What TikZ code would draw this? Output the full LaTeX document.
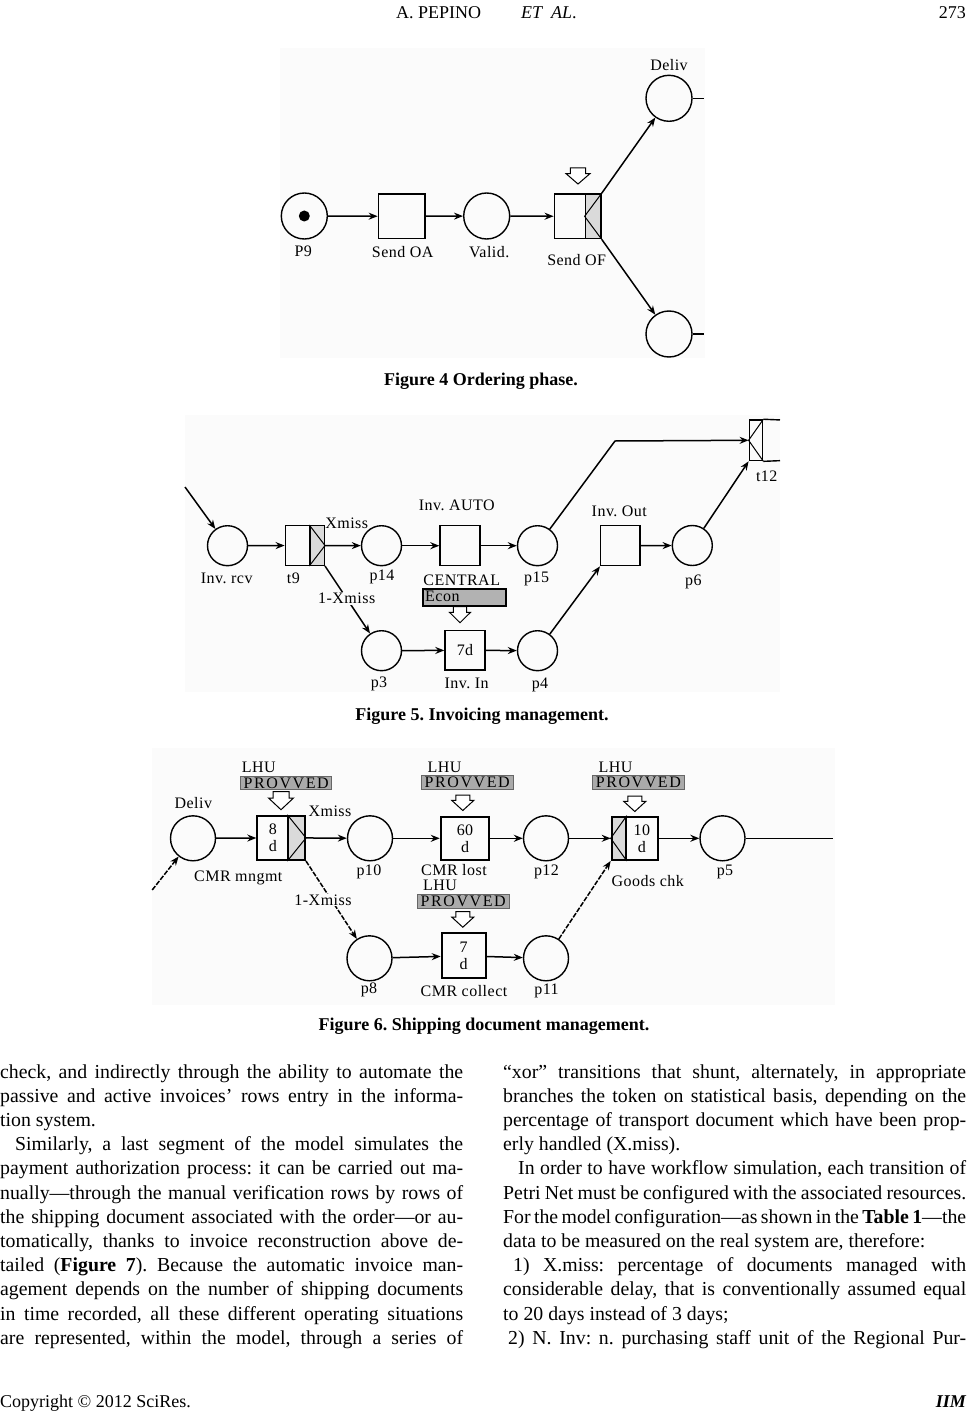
\documentclass[tikz,border=0pt]{standalone}
\usepackage{fontspec}
\setmainfont{Liberation Serif}
\newfontfamily\figfont{Liberation Serif}[LetterSpace=3]
\newfontfamily\provfont{Liberation Serif}[LetterSpace=10]
\usepackage{graphicx}
\usetikzlibrary{arrows.meta,calc}
\definecolor{figbg}{RGB}{251,251,251}
\definecolor{provgray}{RGB}{170,170,170}
\definecolor{econgray}{RGB}{178,178,178}
\definecolor{xorgray}{RGB}{218,218,218}
\frenchspacing
\newcommand\jl[2]{\makebox[#1][s]{#2}}
\newcommand\harrow[4]{% x, ytop, head width, height
  \draw[line width=1pt, fill=white, line join=miter]
    ({#1-0.32*#3},#2) -- ({#1+0.32*#3},#2) -- ({#1+0.32*#3},{#2+0.35*#4}) -- ({#1+#3/2},{#2+0.35*#4})
    -- (#1,{#2+#4}) -- ({#1-#3/2},{#2+0.35*#4}) -- ({#1-0.32*#3},{#2+0.35*#4}) -- cycle;}
\tikzset{
  lab/.style={font=\figfont\fontsize{16}{17}\selectfont, inner sep=0pt},
  place/.style={circle, draw, line width=1.4pt, inner sep=0pt, minimum size=#1},
  trans/.style={rectangle, draw, line width=1.4pt, inner sep=0pt, align=center,
                font=\figfont\fontsize{16}{17}\selectfont},
  thick6/.style={line width=2pt},
  arc/.style={-{Stealth[length=9pt,width=7pt,inset=3pt]}, line width=1.5pt},
  dline/.style={dash pattern=on 5pt off 1.5pt},
  provbox/.style={draw=black!60, line width=0.8pt, fill=provgray, inner sep=0pt,
                  font=\provfont\fontsize{16}{17}\selectfont},
  body/.style={font=\fontsize{19.8}{24}\selectfont, inner sep=0pt, anchor=base west},
  figcap/.style={font=\bfseries\fontsize{18}{20}\selectfont, inner sep=0pt},
  hdr/.style={font=\fontsize{18}{20}\selectfont, inner sep=0pt}
}
\begin{document}
\begin{tikzpicture}[x=1pt,y=-1pt]
\useasboundingbox (0,0) rectangle (968,1415);
\fill[white] (0,0) rectangle (968,1415);

% ---------------- header / footer
\node[hdr, anchor=base west] (hd1) at (396,19) {A. PEPINO};
\node[hdr, anchor=base west] (hd2) at (521,19) {\textit{ET}};
\node[hdr, anchor=base west] (hd3) at (551,19) {\textit{AL}.};
\node[hdr, anchor=base east] (pg) at (966,19) {273};
\node[hdr, anchor=base west] (ft) at (0,1407) {Copyright © 2012 SciRes.};
\node[hdr, anchor=base east, font=\bfseries\itshape\fontsize{18}{20}\selectfont] (ftr) at (966,1407) {IIM};

% ================= FIGURE 4
\fill[figbg] (280,48) rectangle (705,358);
\node[place=46] (P9) at (304.3,216) {};
\fill (P9.center) circle (5.5);
\node[trans, minimum width=46.7, minimum height=44.7] (SOA) at (401.7,216.3) {};
\node[place=46] (Val) at (486.7,216) {};
\node[trans, minimum width=31, minimum height=44.7] (SOF) at (569.8,216.3) {};
\node[trans, fill=xorgray, minimum width=15.7, minimum height=44.7] (SOFx) at (593.15,216.3) {};
\draw[line width=1pt] (SOFx.north east) -- (SOFx.west) -- (SOFx.south east);
\node[place=46] (Deliv) at (669,98.3) {};
\node[place=46] (Out2) at (669,334) {};
\draw[line width=1.4pt] (Deliv.east) -- ++(11.6,0);
\draw[line width=1.4pt] (Out2.east) -- ++(11.6,0);
\draw[arc] (P9) -- (SOA);
\draw[arc] (SOA) -- (Val);
\draw[arc] (Val) -- (SOF);
\draw[arc] (SOFx.north east) -- (Deliv);
\draw[arc] (SOFx.south east) -- (Out2);
\harrow{578}{168}{24}{16}
\node[lab] (lP9) at (303.3,251.7) {P9};
\node[lab] (lSOA) at (402.7,251.7) {Send OA};
\node[lab] (lVal) at (489.3,251.7) {Valid.};
\node[lab] (lSOF) at (576.7,260) {Send OF};
\node[lab] (lDel) at (669,65) {Deliv};
\node[figcap] (cap4) at (481,381) {Figure 4 Ordering phase.};

% ================= FIGURE 5
\fill[figbg] (185,415) rectangle (780,692);
\coordinate (in5) at (185,487);
\coordinate (c1) at (615,441);
\node[place=40] (InvRcv) at (227.5,545.7) {};
\node[trans, minimum width=24.7, minimum height=39.6] (t9) at (297.65,545.5) {};
\node[trans, fill=xorgray, minimum width=14.3, minimum height=39.6] (t9x) at (317.15,545.5) {};
\draw[line width=1pt] (t9x.north west) -- (t9x.east) -- (t9x.south west);
\node[place=40] (p14) at (381.5,545.7) {};
\node[trans, minimum width=40, minimum height=40] (InvA) at (460,545.7) {};
\node[place=40] (p15) at (537.5,545.7) {};
\node[trans, minimum width=39.3, minimum height=40] (InvO) at (620.3,545.7) {};
\node[place=40] (p6) at (692.3,545.5) {};
\node[trans, minimum width=13.4, minimum height=40.7] (t12x) at (756,440.3) {};
\draw[line width=1pt] (t12x.north east) -- (t12x.west) -- (t12x.south east);
\draw[line width=1.4pt] (t12x.north east) -- (780,419.95);
\draw[line width=1.4pt] (t12x.south east) -- (780,460.65);
\node[place=40] (p3) at (381.5,650.7) {};
\node[trans, minimum width=40, minimum height=39.3] (InvI) at (465,650.3) {7d};
\node[place=40] (p4) at (537.5,650.7) {};
\draw[arc] (in5) -- (InvRcv);
\draw[arc] (InvRcv) -- (t9);
\draw[arc] (t9x) -- (p14);
\draw[arc] (p14) -- (InvA);
\draw[arc] (InvA) -- (p15);
\draw[arc] (p15) -- (c1) -- (t12x.west);
\draw[arc] (InvO) -- (p6);
\draw[arc] (p6) -- (t12x.south west);
\draw[arc] (t9x.south east) -- (p3);
\draw[arc] (p3) -- (InvI);
\draw[arc] (InvI) -- (p4);
\draw[arc] (p4) -- (InvO.south west);
\node[draw, line width=2pt, fill=econgray, minimum width=83.3, minimum height=16.4, inner sep=0pt] (Econ) at (464.35,597.5) {};
\node[lab, anchor=west] (lEcon) at (425,596.5) {Econ};
\harrow{460}{606.7}{21}{16}
\node[lab] (lXm5) at (346.7,523.3) {Xmiss};
\node[lab, fill=figbg, inner sep=1pt] (l1Xm5) at (346.7,598.3) {1-Xmiss};
\node[lab] (lInvR) at (226.7,578.3) {Inv. rcv};
\node[lab] (lt9) at (293.3,578.3) {t9};
\node[lab] (lp14) at (382,577) {p14};
\node[lab] (lInvA) at (456.7,505) {Inv. AUTO};
\node[lab] (lCen) at (461.7,580.7) {CENTRAL};
\node[lab] (lp15) at (536.7,579) {p15};
\node[lab] (lInvO) at (619.3,511.7) {Inv. Out};
\node[lab] (lp6) at (693.3,581.7) {p6};
\node[lab] (lt12) at (766.7,476.7) {t12};
\node[lab] (lp3) at (379,684) {p3};
\node[lab] (lInvI) at (466.7,683.3) {Inv. In};
\node[lab] (lp4) at (540,685) {p4};
\node[figcap] (cap5) at (482,716) {Figure 5. Invoicing management.};

% ================= FIGURE 6
\fill[figbg] (152,748) rectangle (835,1005);
\coordinate (in6) at (152.2,890);
\coordinate (end6) at (833,838.3);
\node[place=45] (Del6) at (193,838.3) {};
\node[trans, thick6, minimum width=31, minimum height=44.3] (CMRm) at (272.8,837.9) {8\\d};
\node[trans, thick6, fill=xorgray, minimum width=16.7, minimum height=44.3] (CMRmx) at (296.65,837.9) {};
\draw[line width=1pt] (CMRmx.north west) -- (CMRmx.east) -- (CMRmx.south west);
\node[place=45] (p10) at (370,838.3) {};
\node[trans, thick6, minimum width=48.5, minimum height=43.3] (CMRl) at (465,838.3) {60\\d};
\node[place=45] (p12) at (546,838.3) {};
\node[trans, thick6, fill=xorgray, minimum width=14.1, minimum height=43.3] (GCx) at (618.75,838.3) {};
\draw[line width=1pt] (GCx.north east) -- (GCx.west) -- (GCx.south east);
\node[trans, thick6, minimum width=32.2, minimum height=43.3] (GC) at (641.9,838.3) {10\\d};
\node[place=45] (p5) at (722.5,838.3) {};
\node[place=45] (p8) at (369.5,958.3) {};
\node[trans, thick6, minimum width=44, minimum height=45] (CMRc) at (463.7,955.8) {7\\d};
\node[place=45] (p11) at (546,958.3) {};
\draw[arc, dline] (in6) -- (Del6);
\draw[arc] (Del6) -- (CMRm);
\draw[arc] (CMRmx) -- (p10);
\draw[arc] (p10) -- (CMRl);
\draw[arc] (CMRl) -- (p12);
\draw[arc] (p12) -- (GCx.west);
\draw[arc] (GC) -- (p5);
\draw[line width=1.5pt] (p5) -- (end6);
\draw[arc, dline] (CMRmx.south east) -- (p8);
\draw[arc] (p8) -- (CMRc);
\draw[arc] (CMRc) -- (p11);
\draw[arc, dline] (p11) -- (GCx.south west);
% resources
\node[lab, anchor=west] (lLHU1) at (241.7,767) {LHU};
\node[provbox, minimum width=91, minimum height=12.6] (pv1) at (286.2,783) {PROVVED};
\harrow{281}{791.7}{25}{18}
\node[lab, anchor=west] (lLHU2) at (427.5,767) {LHU};
\node[provbox, minimum width=92.4, minimum height=13.5] (pv2) at (467.2,782.2) {PROVVED};
\harrow{462.8}{795}{22}{15.5}
\node[lab, anchor=west] (lLHU3) at (598.5,767) {LHU};
\node[provbox, minimum width=91.3, minimum height=13.5] (pv3) at (638.35,782.5) {PROVVED};
\harrow{634.8}{796}{22}{15.5}
\node[lab, anchor=west] (lLHU4) at (423,885) {LHU};
\node[provbox, minimum width=91.6, minimum height=13.5] (pv4) at (463.2,901.3) {PROVVED};
\harrow{462.8}{911.7}{22}{15.5}
% labels
\node[lab] (lDel6) at (193.3,803.3) {Deliv};
\node[lab] (lXm6) at (330,811.7) {Xmiss};
\node[lab] (lCMRm) at (238.3,878.3) {CMR mngmt};
\node[lab, fill=figbg, inner sep=1pt] (l1Xm6) at (323,900) {1-Xmiss};
\node[lab] (lp10) at (369,871.7) {p10};
\node[lab] (lCMRl) at (454,870) {CMR lost};
\node[lab] (lp12) at (546.5,871.7) {p12};
\node[lab] (lGC) at (647.8,881) {Goods chk};
\node[lab] (lp5) at (725,871.7) {p5};
\node[lab] (lp8) at (369,990) {p8};
\node[lab] (lCMRc) at (464,990.7) {CMR collect};
\node[lab] (lp11) at (546.5,990.7) {p11};
\node[figcap] (cap6) at (484,1026) {Figure 6. Shipping document management.};

% ================= BODY TEXT
\node[body] (L1) at (0,1078) {\jl{463pt}{check, and indirectly through the ability to automate the}};
\node[body] (L2) at (0,1102.2) {\jl{463pt}{passive and active invoices’ rows entry in the informa-}};
\node[body] (L3) at (0,1126.4) {tion system.};
\node[body] (L4) at (0,1150.6) {\jl{463pt}{\hspace*{15pt}Similarly, a last segment of the model simulates the}};
\node[body] (L5) at (0,1174.8) {\jl{463pt}{payment authorization process: it can be carried out ma-}};
\node[body] (L6) at (0,1199) {\jl{463pt}{nually—through the manual verification rows by rows of}};
\node[body] (L7) at (0,1223.2) {\jl{463pt}{the shipping document associated with the order—or au-}};
\node[body] (L8) at (0,1247.4) {\jl{463pt}{tomatically, thanks to invoice reconstruction above de-}};
\node[body] (L9) at (0,1271.6) {\jl{463pt}{tailed (\textbf{Figure 7}). Because the automatic invoice man-}};
\node[body] (L10) at (0,1295.8) {\jl{463pt}{agement depends on the number of shipping documents}};
\node[body] (L11) at (0,1320) {\jl{463pt}{in time recorded, all these different operating situations}};
\node[body] (L12) at (0,1344.2) {\jl{463pt}{are represented, within the model, through a series of}};

\node[body] (R1) at (503,1078) {\jl{463pt}{“xor” transitions that shunt, alternately, in appropriate}};
\node[body] (R2) at (503,1102.2) {\jl{463pt}{branches the token on statistical basis, depending on the}};
\node[body] (R3) at (503,1126.4) {\jl{463pt}{percentage of transport document which have been prop-}};
\node[body] (R4) at (503,1150.6) {erly handled (X.miss).};
\node[body] (R5) at (503,1174.8) {\jl{463pt}{\hspace*{15pt}In order to have workflow simulation, each transition of}};
\node[body] (R6) at (503,1199) {\jl{463pt}{Petri Net must be configured with the associated resources.}};
\node[body] (R7) at (503,1223.2) {\jl{463pt}{For the model configuration—as shown in the \textbf{Table 1}—the}};
\node[body] (R8) at (503,1247.4) {data to be measured on the real system are, therefore:};
\node[body] (R9) at (503,1271.6) {\jl{463pt}{\hspace*{10pt}1) X.miss: percentage of documents managed with}};
\node[body] (R10) at (503,1295.8) {\jl{463pt}{considerable delay, that is conventionally assumed equal}};
\node[body] (R11) at (503,1320) {to 20 days instead of 3 days;};
\node[body] (R12) at (503,1344.2) {\jl{463pt}{\hspace*{5pt}2) N. Inv: n. purchasing staff unit of the Regional Pur-}};
\end{tikzpicture}
\end{document}
